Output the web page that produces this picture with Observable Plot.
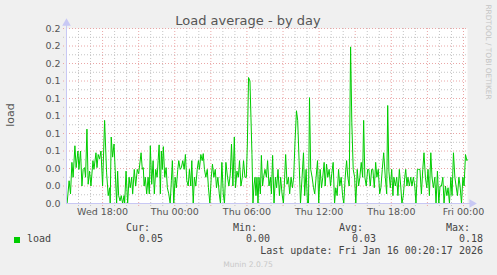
<!DOCTYPE html>
<html>
<head>
<meta charset="utf-8">
<script src="https://cdn.jsdelivr.net/npm/d3@7"></script>
<script src="https://cdn.jsdelivr.net/npm/@observablehq/plot@0.6"></script>
<style>
  html, body { margin: 0; padding: 0; background: #f0f0f0; }
  #wrap { position: relative; width: 497px; height: 275px; overflow: hidden; background: #f0f0f0; }
  #chart { position: absolute; left: 0; top: 0; }
  .t { position: absolute; white-space: nowrap; line-height: 12px; height: 12px; }
  .mono { font-family: "DejaVu Sans Mono", monospace; font-size: 10px; color: #444; }
</style>
</head>
<body>
<div id="wrap">
  <div id="chart"></div>
</div>
<script>
// ---- data (minutes after Wed 2026-01-14 15:00 UTC, load values) ----
const minutes = [
  0,3,13,20,27,33,42,48,57,62,70,77,83,90,95,102,108,115,122,132,137,147,152,158,165,172,180,190,200,208,215,218,223,230,237,243,250,255,260,267,273,280,287,290,297,305,312,318,325,330,338,345,353,360,372,378,383,
  387,393,400,407,413,418,425,432,438,445,452,457,462,468,473,478,483,490,497,503,510,517,523,528,535,542,548,555,560,567,573,580,587,593,600,607,613,620,625,632,638,645,652,658,663,670,677,682,688,695,702,708,715,722,728,735,742,748,755,762,768,775,782,788,795,
  803,810,817,823,830,837,843,850,857,863,870,877,883,890,897,902,908,915,920,925,930,935,940,945,950,955,960,967,972,978,983,990,997,1003,1010,1017,1022,1028,1035,1042,1048,1055,1062,1068,1075,1082,1088,1093,1100,1107,1113,1120,1127,1133,1140,1147,1153,1160,1167,
  1175,1182,1188,1195,1202,1207,1212,1218,1225,1232,1238,1245,1252,1258,1265,1272,1278,1285,1290,1297,1303,1310,1317,1323,1330,1337,1343,1350,1357,1363,1370,1377,1383,1390,1397,1403,1410,1417,1423,1430,1437,1443,1450,1457,1463,1470,1477,1482,1488,1495,1502,1508,1515,1522,1528,1535,1542,1548,1555,1562,1568,1575,1582,
  1590,1597,1602,1608,1615,1622,1628,1633,1640,1647,1653,1660,1667,1673,1680,1687,1692,1698,1703,1710,1717,1723,1730,1737,1743,1750,1757,1763,1770,1777,1783,1790,1797,1803,1810,1817,1823,1830,1837,1843,1850,1857,1863,1870,1877,1883,1890,1897,1903,1910,1917,1923,1930,1937,1943,1950,1957,1963,1970,1977,1983,1990,1997,2000
];
const loads = [
  0.000,0.000,0.026,0.011,0.047,0.030,0.066,0.041,0.060,0.039,0.060,0.020,0.039,0.041,0.030,0.085,0.022,0.037,0.020,0.049,0.039,0.058,0.041,0.056,0.051,0.060,0.020,0.095,0.035,0.009,0.018,0.000,0.076,0.053,0.068,0.037,0.000,0.037,0.009,0.003,0.009,0.000,0.009,0.000,0.037,0.000,0.030,0.018,0.030,0.011,0.039,0.020,0.039,0.034,0.058,0.039,0.041,
  0.020,0.030,0.011,0.030,0.011,0.066,0.022,0.049,0.011,0.039,0.030,0.049,0.067,0.011,0.060,0.039,0.065,0.030,0.041,0.018,0.011,0.000,0.026,0.049,0.000,0.030,0.018,0.039,0.049,0.039,0.041,0.049,0.039,0.056,0.026,0.020,0.039,0.020,0.049,0.000,0.030,0.020,0.039,0.049,0.039,0.056,0.049,0.057,0.039,0.030,0.039,0.018,0.000,0.030,0.045,0.030,0.039,0.018,0.030,0.011,0.000,0.047,0.011,0.000,0.047,
  0.030,0.020,0.034,0.068,0.020,0.076,0.018,0.037,0.030,0.049,0.020,0.030,0.049,0.030,0.030,0.068,0.144,0.140,0.098,0.056,0.000,0.020,0.030,0.009,0.030,0.000,0.030,0.011,0.055,0.020,0.030,0.039,0.030,0.049,0.020,0.030,0.011,0.055,0.000,0.030,0.018,0.039,0.009,0.030,0.011,0.000,0.030,0.056,0.022,0.030,0.011,0.030,0.018,0.030,0.072,0.106,0.095,0.049,0.000,
  0.030,0.058,0.009,0.039,0.000,0.000,0.121,0.039,0.030,0.018,0.011,0.030,0.049,0.000,0.039,0.018,0.030,0.047,0.020,0.045,0.030,0.039,0.020,0.034,0.047,0.000,0.018,0.009,0.039,0.020,0.030,0.009,0.000,0.030,0.049,0.030,0.020,0.179,0.093,0.039,0.030,0.000,0.039,0.020,0.030,0.047,0.030,0.095,0.030,0.020,0.039,0.039,0.020,0.039,0.039,0.018,0.047,0.030,0.039,0.011,0.018,0.039,0.058,
  0.030,0.011,0.112,0.037,0.018,0.039,0.009,0.030,0.020,0.030,0.009,0.039,0.020,0.000,0.009,0.030,0.039,0.020,0.030,0.020,0.030,0.020,0.030,0.020,0.000,0.039,0.039,0.039,0.011,0.039,0.058,0.030,0.018,0.039,0.009,0.058,0.030,0.018,0.030,0.000,0.037,0.000,0.020,0.020,0.030,0.000,0.020,0.009,0.018,0.000,0.030,0.009,0.058,0.030,0.020,0.009,0.030,0.020,0.000,0.030,0.020,0.056,0.049,0.050
];
const xTicks = ["2026-01-14T18:00Z","2026-01-15T00:00Z","2026-01-15T06:00Z","2026-01-15T12:00Z","2026-01-15T18:00Z","2026-01-16T00:00Z"];
const yTicks = [0,0.02,0.04,0.06,0.08,0.10,0.12,0.14,0.16,0.18,0.20];
const seriesName = "load";
const statLabels = ["Cur:","Min:","Avg:","Max:"];
const statValues = ["0.05","0.00","0.03","0.18"];
const title = "Load average - by day";
const lastUpdate = "Last update: Fri Jan 16 00:20:17 2026";

// ---- build ----
const start = Date.UTC(2026,0,14,15,0,0);
const end = start + 2000*60000;
const data = minutes.map((m,i) => ({time: new Date(start + m*60000), load: loads[i]}));
const hourLines = d3.utcHour.range(new Date(start + 1), new Date(end));
const minorX = hourLines.filter(d => d.getUTCHours() % 3 !== 0);
const majorX = hourLines.filter(d => d.getUTCHours() % 3 === 0);
const majorY = yTicks.filter(v => v > 0);
const minorY = yTicks.slice(0,-1).map(v => +(v + 0.01).toFixed(2));
const axisCol = "#c8c8f4";

const chart = Plot.plot({
  width: 497, height: 275,
  marginLeft: 66, marginRight: 30, marginTop: 28, marginBottom: 72,
  style: {background: "transparent", fontFamily: "DejaVu Sans", fontSize: "9.5px", color: "#555", overflow: "visible"},
  x: {type: "utc", domain: [new Date(start), new Date(end)], axis: null},
  y: {domain: [0, 0.2], axis: null},
  marks: [
    Plot.frame({fill: "white", stroke: "none"}),
    Plot.ruleY(minorY, {stroke: "#c4c4c4", strokeDasharray: "1,2", insetLeft: -3}),
    Plot.ruleX(minorX, {stroke: "#c4c4c4", strokeDasharray: "1,2", insetBottom: -3}),
    Plot.ruleY(majorY, {stroke: "#eaa6a6", strokeDasharray: "1,2", insetLeft: -3}),
    Plot.ruleX(majorX, {stroke: "#eaa6a6", strokeDasharray: "1,2", insetBottom: -3}),
    Plot.line(data, {x: "time", y: "load", stroke: "#00cc00", strokeWidth: 1}),
    Plot.ruleX([new Date(start)], {y1: 0, y2: 0.204, stroke: axisCol}),
    Plot.ruleY([0], {x1: new Date(start), x2: new Date(end + 20*60000), stroke: axisCol}),
    Plot.dot([new Date(start)], {x: d => d, y: 0.206, symbol: "triangle", r: 3.2, fill: axisCol, stroke: "none"}),
    Plot.dot([new Date(end + 22*60000)], {x: d => d, y: 0, symbol: "triangle", r: 3.2, rotate: 90, fill: axisCol, stroke: "none"}),
    Plot.axisY({ticks: yTicks, tickFormat: d3.format(".1f"), tickSize: 0, tickPadding: 6, label: null, fill: "#555"}),
    Plot.axisX({ticks: xTicks.map(s => new Date(s)), tickFormat: d3.utcFormat("%a %H:%M"), tickSize: 0, tickPadding: 5, label: null, fill: "#555"})
  ]
});
document.getElementById("chart").appendChild(chart);

// ---- text around the plot ----
const wrap = document.getElementById("wrap");
function addText(txt, css, cls) {
  const d = document.createElement("div");
  d.className = "t" + (cls ? " " + cls : "");
  d.textContent = txt;
  Object.assign(d.style, css);
  wrap.appendChild(d);
  return d;
}
addText(title, {left: "248px", top: "14px", transform: "translateX(-50%)", font: "13px 'DejaVu Sans'", color: "#555", lineHeight: "13px", height: "13px"});
addText("load", {left: "10px", top: "115px", transform: "translate(-50%,-50%) rotate(-90deg)", font: "11px 'DejaVu Sans'", color: "#555"});
addText("RRDTOOL / TOBI OETIKER", {left: "487px", top: "52px", transform: "translate(-50%,-50%) rotate(90deg)", font: "7.4px 'DejaVu Sans'", color: "#c4c4c4"});
addText("Munin 2.0.75", {left: "248px", top: "260px", transform: "translateX(-50%)", font: "7.6px 'DejaVu Sans'", color: "#c8c8c8"});

const sq = document.createElement("div");
Object.assign(sq.style, {position: "absolute", left: "14px", top: "237px", width: "6px", height: "6px", background: "#00cc00"});
wrap.appendChild(sq);
addText(seriesName, {left: "27px", top: "233px"}, "mono");
const labelRight = [150, 257, 363, 470];
statLabels.forEach((s, i) => {
  addText(s, {right: (497 - labelRight[i]) + "px", top: "222px"}, "mono");
  addText(statValues[i], {right: (497 - labelRight[i] - 13) + "px", top: "233px"}, "mono");
});
addText(lastUpdate, {right: (497 - 483) + "px", top: "245px"}, "mono");
</script>
</body>
</html>
